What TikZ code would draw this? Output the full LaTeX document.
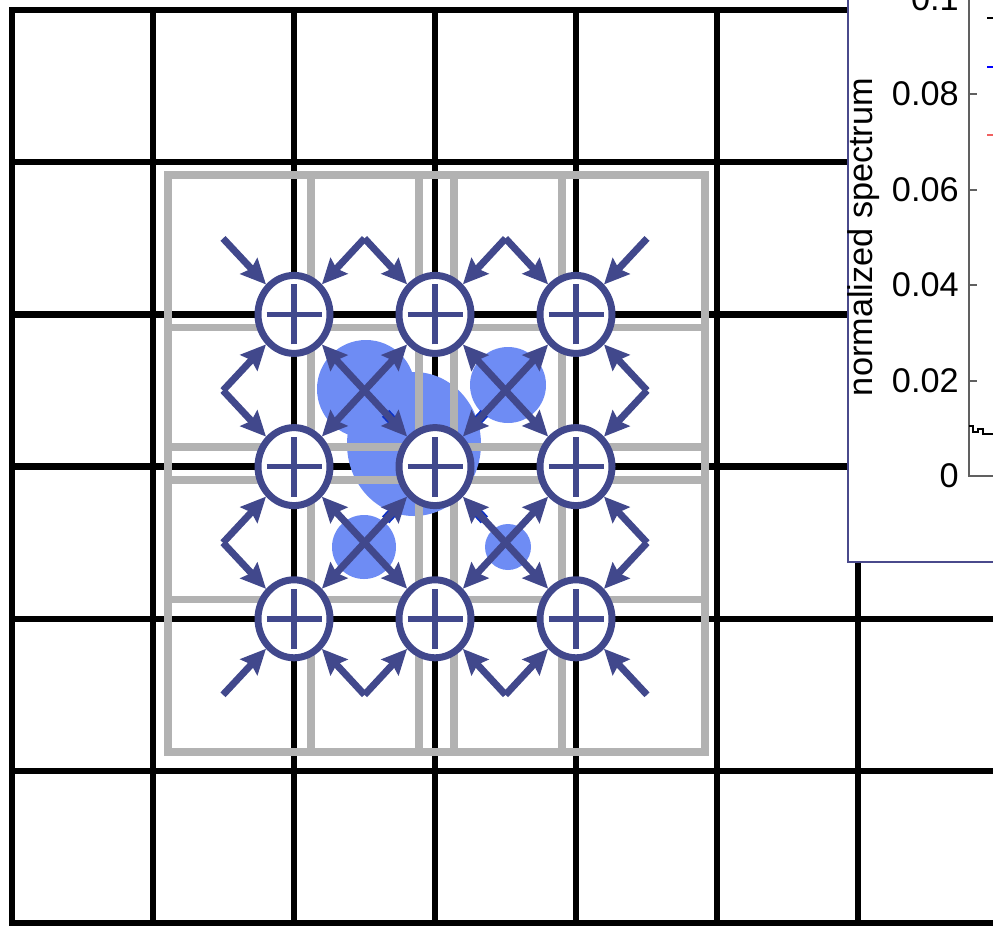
\documentclass[tikz,border=0pt]{standalone}
\usepackage{fontspec}
\setmainfont{Liberation Sans}
\usetikzlibrary{arrows.meta, shapes.geometric, calc}
\definecolor{FlowBlue}{HTML}{41488C}
\definecolor{BlobBlue}{HTML}{6E8CF4}
\definecolor{DeepBlue}{HTML}{0A2FC8}
\definecolor{GridGray}{HTML}{B2B2B2}
\definecolor{FrameBlue}{HTML}{4A4A8C}
\definecolor{AxisGray}{HTML}{606060}
\definecolor{LegendRed}{HTML}{F06060}

\begin{document}
\begin{tikzpicture}[x=0.02cm, y=-0.02cm,
    every node/.style={font=\fontsize{19.5}{22}\selectfont},
    sumnode/.style={ellipse, draw=FlowBlue, line width=0.14cm, fill=white, minimum width=1.44cm, minimum height=1.56cm, inner sep=0pt},
    flow/.style={draw=FlowBlue, line width=0.14cm, -{Stealth[length=0.5cm, width=0.46cm, inset=0.07cm]}}]
  \useasboundingbox (0,0) rectangle (993,927);
  \clip (0,0) rectangle (993,927);
  % black lattice
  \foreach \x in {12,153,...,858}
    \draw[line width=0.12cm, line cap=rect] (\x,10) -- (\x,923);
  \foreach \y in {10,162.2,314.4,466.6,618.8,771,923.2}
    \draw[line width=0.13cm, line cap=rect] (12,\y) -- (1010,\y);
  % blobs
  \fill[BlobBlue] (414,444) ellipse [x radius=67, y radius=72];
  \fill[BlobBlue] (366,389) circle [radius=49];
  \fill[BlobBlue] (508,385) circle [radius=38];
  \fill[BlobBlue] (364,547) circle [radius=32];
  \fill[BlobBlue] (508,547) circle [radius=23];
  % gray blocks
  \foreach \gx/\gy in {168/175, 419/175, 168/447, 419/447} {
    \draw[GridGray, line width=0.15cm] (\gx,\gy) rectangle ++(286,305);
    \draw[GridGray, line width=0.15cm] (\gx+143,\gy) -- ++(0,305);
    \draw[GridGray, line width=0.15cm] (\gx,\gy+152.5) -- ++(286,0);
  }
  % sources and sums
  \foreach \x [count=\i from 0] in {223,364.5,505.5,647}
    \foreach \y [count=\j from 0] in {238.4,390.5,542.7,694.8}
      \coordinate (s-\i-\j) at (\x,\y);
  \foreach \x [count=\a from 0] in {294,435,576}
    \foreach \y [count=\b from 0] in {314.4,466.6,618.8}
      \node[sumnode] (c-\a-\b) at (\x,\y) {};
  \foreach \si/\sj in {1/1,2/1,1/2,2/2}
    \draw[DeepBlue, line width=0.2cm] ($(s-\si-\sj)!0.3!(c-1-1.center)$) -- ($(s-\si-\sj)!0.5!(c-1-1.center)$);
  \foreach \a in {0,1,2}
    \foreach \b in {0,1,2} {
      \draw[FlowBlue, line width=0.11cm] ([xshift=-0.55cm]c-\a-\b.center) -- ([xshift=0.55cm]c-\a-\b.center);
      \draw[FlowBlue, line width=0.11cm] ([yshift=-0.6cm]c-\a-\b.center) -- ([yshift=0.6cm]c-\a-\b.center);
      \foreach \da/\db in {0/0,1/0,0/1,1/1} {
        \pgfmathtruncatemacro\si{\a+\da}
        \pgfmathtruncatemacro\sj{\b+\db}
        \draw[flow] (s-\si-\sj) -- (c-\a-\b);
      }
    }
  % spectrum inset
  \filldraw[fill=white, draw=FrameBlue, line width=0.04cm] (848,-20) rectangle (1020,562);
  \draw[AxisGray, line width=0.04cm] (969,-20) -- (969,476) -- (1020,476);
  \foreach \v/\y [count=\k] in {0/476, 0.02/380.5, 0.04/285, 0.06/189.5, 0.08/94, 0.1/-1.5} {
    \draw[AxisGray, line width=0.04cm] (969,\y) -- (977,\y);
    \node[anchor=east, inner sep=0pt] (tick\k) at (959,\y) {\v};
  }
  \node[rotate=90] (ylabel) at (864,237) {normalized spectrum};
  \draw[black, line width=0.04cm] (987,18) -- (1000,18);
  \draw[blue, line width=0.04cm] (987,67) -- (1000,67);
  \draw[LegendRed, line width=0.04cm] (987,135) -- (1000,135);
  \draw[black, line width=0.04cm] (969,426) -- (973,426) -- (973,432) -- (978,432) -- (978,429) -- (983,429) -- (983,434) -- (1000,434);
\end{tikzpicture}
\end{document}
